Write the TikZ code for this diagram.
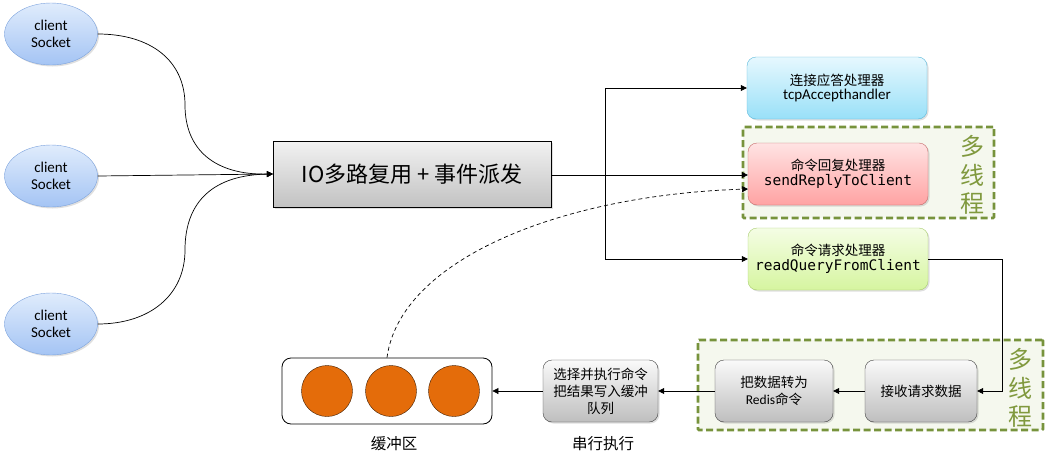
\documentclass[tikz,border=0pt]{standalone}
\usepackage{fontspec}
\setmainfont{Carlito}
\newfontfamily\cjk{Noto Sans CJK SC}
\newfontfamily\monof{DejaVu Sans Mono}
\usetikzlibrary{shapes.geometric,arrows.meta,shadows}
\definecolor{sockT}{HTML}{E0ECFC}
\definecolor{sockBot}{HTML}{A4C4F4}
\definecolor{sockB}{HTML}{7DA3DD}
\definecolor{ioT}{HTML}{F2F2F2}
\definecolor{ioBot}{HTML}{C2C2C2}
\definecolor{tcpT}{HTML}{E6F8FE}
\definecolor{tcpBot}{HTML}{99E0F8}
\definecolor{tcpB}{HTML}{5BB8DA}
\definecolor{repT}{HTML}{FFE3E3}
\definecolor{repBot}{HTML}{FFA3A3}
\definecolor{repB}{HTML}{C56A6A}
\definecolor{readT}{HTML}{F4FDE4}
\definecolor{readBot}{HTML}{D6F5A0}
\definecolor{readB}{HTML}{A8CC6E}
\definecolor{grpF}{HTML}{F5F8EE}
\definecolor{grpB}{HTML}{77933C}
\definecolor{mtC}{HTML}{80993E}
\definecolor{gT}{HTML}{FAFAFA}
\definecolor{gBot}{HTML}{BEBEBE}
\definecolor{gB}{HTML}{404040}
\definecolor{orng}{HTML}{E46C0A}
\tikzset{
  shad/.style={drop shadow={opacity=0.25,shadow xshift=1.5pt,shadow yshift=-1.5pt}},
  sock/.style={ellipse, draw=sockB, top color=sockT, bottom color=sockBot, shad,
    minimum width=93pt, minimum height=62pt, align=center, inner sep=0pt,
    font=\fontsize{15}{17}\selectfont},
  iobox/.style={rectangle, draw=black, top color=ioT, bottom color=ioBot, shad,
    minimum width=278pt, minimum height=66pt, inner sep=0pt,
    font=\cjk\fontsize{22}{26}\selectfont},
  hbox/.style={rectangle, rounded corners=9pt, shad, minimum width=180pt,
    minimum height=62pt, align=center, inner sep=0pt},
  grp/.style={rectangle, draw=grpB, fill=grpF, line width=2.6pt,
    dash pattern=on 7pt off 3.5pt, rounded corners=1pt, inner sep=0pt},
  mt/.style={text=mtC, align=center, inner sep=0pt,
    font=\cjk\fontsize{24}{28.5}\selectfont},
  gbox/.style={rectangle, rounded corners=9pt, draw=gB, top color=gT, bottom color=gBot,
    shad, minimum width=117pt, minimum height=62pt, align=center, inner sep=0pt,
    font=\cjk\fontsize{13.5}{17}\selectfont},
  ball/.style={circle, draw=black!70!orng, fill=orng, minimum size=51pt, inner sep=0pt},
  lbl/.style={inner sep=0pt, font=\cjk\fontsize{15.5}{18}\selectfont},
  arr/.style={-{Triangle[length=6pt,width=6pt]}, line width=0.7pt},
  conn/.style={line width=0.7pt},
}
\begin{document}
\begin{tikzpicture}[x=1pt,y=-1pt]
\useasboundingbox (0,0) rectangle (1047,466);
% clients
\node[sock] (c1) at (51,34) {client\\Socket};
\node[sock] (c2) at (51,176) {client\\Socket};
\node[sock] (c3) at (51,324) {client\\Socket};
% IO box
\node[iobox] (io) at (412,174) {IO多路复用 + 事件派发};
% groups
\node[grp, minimum width=251pt, minimum height=91pt] (g1) at (868.5,172.5) {};
\node[grp, minimum width=345pt, minimum height=90pt] (g2) at (870.5,385) {};
\node[mt] (mt1) at (972,175) {多\\线\\程};
\node[mt] (mt2) at (1020,388) {多\\线\\程};
% handlers
\node[hbox, draw=tcpB, top color=tcpT, bottom color=tcpBot] (tcp) at (837,88)
  {{\cjk\fontsize{13.5}{16}\selectfont 连接应答处理器}\\[2pt]{\fontsize{15}{17}\selectfont tcpAccepthandler}};
\node[hbox, draw=repB, top color=repT, bottom color=repBot] (rep) at (838,174)
  {{\cjk\fontsize{13.5}{16}\selectfont 命令回复处理器}\\[2pt]{\monof\fontsize{14.5}{17}\selectfont sendReplyToClient}};
\node[hbox, draw=readB, top color=readT, bottom color=readBot] (rd) at (838,259)
  {{\cjk\fontsize{13.5}{16}\selectfont 命令请求处理器}\\[2pt]{\monof\fontsize{14.5}{17}\selectfont readQueryFromClient}};
% bottom chain
\node[gbox, minimum width=112pt] (recv) at (921,391) {接收请求数据};
\node[gbox, minimum width=118pt] (conv) at (774,391) {把数据转为\\{\rmfamily Redis}命令};
\node[gbox, minimum width=115pt] (exec) at (600.5,391) {选择并执行命令\\把结果写入缓冲\\队列};
\node[rectangle, rounded corners=9pt, draw=black, line width=0.8pt, fill=white,
  minimum width=210pt, minimum height=66pt] (buf) at (387,391) {};
\node[ball] (b1) at (327,391) {};
\node[ball] (b2) at (391,391) {};
\node[ball] (b3) at (454,391) {};
\node[lbl] (l1) at (394,444) {缓冲区};
\node[lbl] (l2) at (603,444) {串行执行};
% connectors from clients
\draw[arr] (c1.east) .. controls (150,34) and (185,60) .. (185,105)
  .. controls (185,150) and (215,175) .. (io.west);
\draw[arr] (c2.east) -- (io.west);
\draw[arr] (c3.east) .. controls (150,324) and (185,295) .. (185,250)
  .. controls (185,200) and (215,175) .. (io.west);
% IO to handlers
\coordinate (j) at (605,175);
\draw[arr] (io.east |- j) -- (rep.west |- j);
\draw[arr] (j) |- (tcp.west);
\draw[arr] (j) |- (rd.west);
% read to recv
\coordinate (k) at (1002,259);
\draw[conn] (rd.east) -- (k);
\draw[arr] (k) |- (recv.east);
\draw[arr] (recv.west) -- (conv.east);
\draw[arr] (conv.west) -- (exec.east);
\draw[arr] (exec.west) -- (buf.east);
% dashed feedback
\coordinate (d) at (748,189);
\draw[arr, dash pattern=on 4pt off 3pt] (buf.north) .. controls (400,260) and (560,195) .. (d);
\end{tikzpicture}
\end{document}
